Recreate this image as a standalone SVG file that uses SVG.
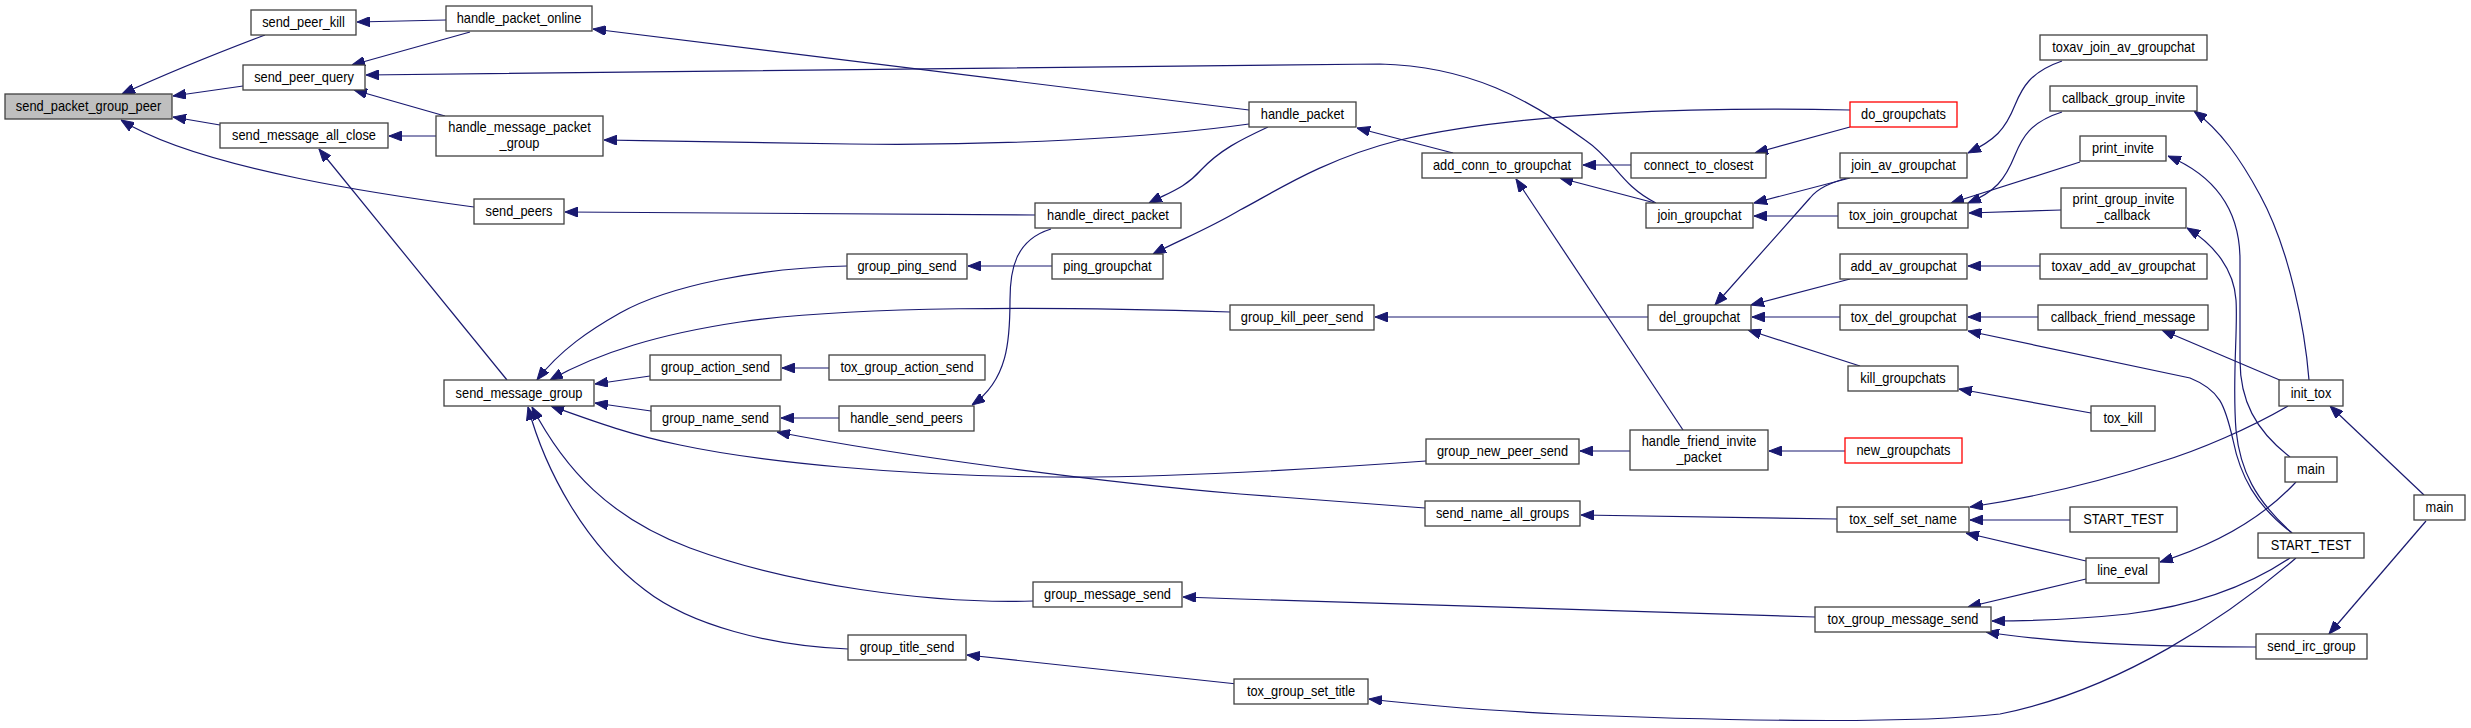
<svg xmlns="http://www.w3.org/2000/svg" width="2471" height="728" viewBox="0 0 2471 728">
<style>
.n rect{fill:#ffffff;stroke:#404040;stroke-width:1.3}
.root rect{fill:#bfbfbf}
.red rect{stroke:#ff0000}
.n text{font-family:"Liberation Sans",Arial,sans-serif;font-size:14.4px;text-anchor:middle;fill:#000000}
.e path{fill:none;stroke:#191970;stroke-width:1.2;marker-end:url(#a)}
</style>
<defs>
<marker id="a" markerUnits="userSpaceOnUse" markerWidth="13" markerHeight="10" viewBox="0 0 13 10" refX="13" refY="5" orient="auto"><path d="M0,0 L13,5 L0,10 z" fill="#191970" stroke="#191970" stroke-width="1"/></marker>
</defs>
<rect width="2471" height="728" fill="#ffffff"/>
<g id="edges" class="e">
<path d="M265,35 C220,52 170,72 122,94"/>
<path d="M243,86 L173,96"/>
<path d="M220,125 L173,117"/>
<path d="M474,207 C400,197 200,170 121,120"/>
<path d="M446,20 L357,22"/>
<path d="M470,32 L352,65"/>
<path d="M445,116 L354,90"/>
<path d="M1656,203 C1620,185 1615,160 1585,140 C1530,100 1470,66 1380,64 L366,75"/>
<path d="M436,136 L389,136"/>
<path d="M507,380 L319,149"/>
<path d="M1249,110 L593,29"/>
<path d="M1249,124 C1150,138 1000,146 850,144 C750,143 680,141 604,140"/>
<path d="M1035,215 L565,212"/>
<path d="M1268,127 C1240,140 1220,150 1201,170 C1185,188 1170,192 1149,203"/>
<path d="M1051,229 C1015,240 1010,270 1010,300 C1010,340 1008,380 972,405"/>
<path d="M1850,110 C1700,107 1520,112 1400,140 C1320,160 1270,195 1240,210 C1210,228 1180,240 1153,254"/>
<path d="M1453,153 L1357,128"/>
<path d="M1631,165 L1583,165"/>
<path d="M1655,203 L1560,178"/>
<path d="M1683,430 L1516,179"/>
<path d="M1850,127 L1755,153"/>
<path d="M1850,178 L1754,203"/>
<path d="M1838,216 L1754,216"/>
<path d="M1850,177 C1830,183 1818,188 1810,198 L1715,305"/>
<path d="M1850,279 L1751,305"/>
<path d="M1840,317 L1752,317"/>
<path d="M1860,366 L1748,330"/>
<path d="M1648,317 L1375,317"/>
<path d="M1230,312 C1050,306 850,306 740,322 C660,334 600,352 550,380"/>
<path d="M847,266 C760,268 670,285 620,313 C590,330 560,350 537,380"/>
<path d="M650,376 L595,384"/>
<path d="M651,411 L595,403"/>
<path d="M1426,461 C1300,470 1150,478 1055,477 C900,476 760,462 680,445 C630,435 590,420 551,406"/>
<path d="M1033,601 C930,604 790,585 690,548 C610,518 565,470 532,407"/>
<path d="M848,649 C770,646 690,625 645,590 C585,545 545,470 528,407"/>
<path d="M829,368 L782,368"/>
<path d="M839,418 L781,418"/>
<path d="M1052,266 L968,266"/>
<path d="M1425,508 L1240,494 C1100,482 900,456 777,432"/>
<path d="M1630,451 L1580,451"/>
<path d="M1845,451 L1769,451"/>
<path d="M1837,519 L1581,515"/>
<path d="M1815,617 L1240,599 L1183,597"/>
<path d="M1237,684 L967,655"/>
<path d="M2296,558 C2230,615 2120,690 2000,714 C1900,725 1700,720 1560,714 C1480,710 1420,705 1369,699"/>
<path d="M2062,61 C2030,72 2022,88 2015,105 C2005,130 1995,140 1968,153"/>
<path d="M2062,112 C2030,122 2022,138 2015,155 C2005,180 1995,192 1968,203"/>
<path d="M2080,162 L1951,203"/>
<path d="M2061,210 L1969,213"/>
<path d="M2040,266 L1968,266"/>
<path d="M2038,317 L1968,317"/>
<path d="M2292,533 C2255,505 2240,475 2233,440 C2225,405 2220,390 2190,378 L1968,331"/>
<path d="M2292,533 C2255,500 2240,470 2236,430 C2232,380 2238,330 2236,300 C2234,270 2215,245 2187,228"/>
<path d="M2290,457 C2255,430 2240,400 2240,360 L2240,260 C2240,220 2225,180 2168,156"/>
<path d="M2282,381 L2162,330"/>
<path d="M2309,380 C2305,330 2290,250 2260,195 C2240,158 2220,130 2194,111"/>
<path d="M2288,406 C2250,428 2200,450 2160,462 C2090,485 2030,498 1970,507"/>
<path d="M2070,520 L1970,520"/>
<path d="M2086,561 L1966,533"/>
<path d="M2296,482 C2270,510 2230,540 2160,562"/>
<path d="M2086,579 L1968,607"/>
<path d="M2290,558 C2250,585 2200,605 2128,614 C2080,619 2030,621 1992,621"/>
<path d="M2256,647 C2150,647 2050,642 1986,632"/>
<path d="M2424,495 L2330,406"/>
<path d="M2426,521 L2329,634"/>
<path d="M2091,413 L1959,389"/>
</g>
<g id="send_packet_group_peer" class="n root"><rect x="5" y="94" width="167" height="25"/><text transform="matrix(0.89 0 0 1 88.5 111.3)">send_packet_group_peer</text></g>
<g id="send_peer_kill" class="n"><rect x="251" y="10" width="105" height="25"/><text transform="matrix(0.89 0 0 1 303.5 27.3)">send_peer_kill</text></g>
<g id="send_peer_query" class="n"><rect x="243" y="65" width="122" height="25"/><text transform="matrix(0.89 0 0 1 304 82.3)">send_peer_query</text></g>
<g id="send_message_all_close" class="n"><rect x="220" y="123" width="168" height="25"/><text transform="matrix(0.89 0 0 1 304 140.3)">send_message_all_close</text></g>
<g id="handle_packet_online" class="n"><rect x="446" y="6" width="146" height="25"/><text transform="matrix(0.89 0 0 1 519 23.3)">handle_packet_online</text></g>
<g id="handle_message_packet_group" class="n"><rect x="436" y="116" width="167" height="40"/><text transform="matrix(0.89 0 0 1 519.5 132)">handle_message_packet</text><text transform="matrix(0.89 0 0 1 519.5 147.5)">_group</text></g>
<g id="send_peers" class="n"><rect x="474" y="199" width="90" height="25"/><text transform="matrix(0.89 0 0 1 519 216.3)">send_peers</text></g>
<g id="send_message_group" class="n"><rect x="444" y="380" width="150" height="26"/><text transform="matrix(0.89 0 0 1 519 397.8)">send_message_group</text></g>
<g id="group_action_send" class="n"><rect x="650" y="355" width="131" height="25"/><text transform="matrix(0.89 0 0 1 715.5 372.3)">group_action_send</text></g>
<g id="group_name_send" class="n"><rect x="651" y="406" width="129" height="25"/><text transform="matrix(0.89 0 0 1 715.5 423.3)">group_name_send</text></g>
<g id="group_ping_send" class="n"><rect x="847" y="254" width="120" height="25"/><text transform="matrix(0.89 0 0 1 907 271.3)">group_ping_send</text></g>
<g id="tox_group_action_send" class="n"><rect x="829" y="355" width="156" height="25"/><text transform="matrix(0.89 0 0 1 907 372.3)">tox_group_action_send</text></g>
<g id="handle_send_peers" class="n"><rect x="839" y="406" width="135" height="25"/><text transform="matrix(0.89 0 0 1 906.5 423.3)">handle_send_peers</text></g>
<g id="group_title_send" class="n"><rect x="848" y="635" width="118" height="25"/><text transform="matrix(0.89 0 0 1 907 652.3)">group_title_send</text></g>
<g id="handle_direct_packet" class="n"><rect x="1035" y="203" width="146" height="25"/><text transform="matrix(0.89 0 0 1 1108 220.3)">handle_direct_packet</text></g>
<g id="ping_groupchat" class="n"><rect x="1052" y="254" width="111" height="25"/><text transform="matrix(0.89 0 0 1 1107.5 271.3)">ping_groupchat</text></g>
<g id="group_message_send" class="n"><rect x="1033" y="582" width="149" height="25"/><text transform="matrix(0.89 0 0 1 1107.5 599.3)">group_message_send</text></g>
<g id="handle_packet" class="n"><rect x="1249" y="102" width="107" height="25"/><text transform="matrix(0.89 0 0 1 1302.5 119.3)">handle_packet</text></g>
<g id="group_kill_peer_send" class="n"><rect x="1230" y="305" width="144" height="25"/><text transform="matrix(0.89 0 0 1 1302 322.3)">group_kill_peer_send</text></g>
<g id="tox_group_set_title" class="n"><rect x="1234" y="679" width="134" height="25"/><text transform="matrix(0.89 0 0 1 1301 696.3)">tox_group_set_title</text></g>
<g id="add_conn_to_groupchat" class="n"><rect x="1422" y="153" width="160" height="25"/><text transform="matrix(0.89 0 0 1 1502 170.3)">add_conn_to_groupchat</text></g>
<g id="group_new_peer_send" class="n"><rect x="1426" y="439" width="153" height="25"/><text transform="matrix(0.89 0 0 1 1502.5 456.3)">group_new_peer_send</text></g>
<g id="send_name_all_groups" class="n"><rect x="1425" y="501" width="155" height="25"/><text transform="matrix(0.89 0 0 1 1502.5 518.3)">send_name_all_groups</text></g>
<g id="connect_to_closest" class="n"><rect x="1631" y="153" width="135" height="25"/><text transform="matrix(0.89 0 0 1 1698.5 170.3)">connect_to_closest</text></g>
<g id="join_groupchat" class="n"><rect x="1646" y="203" width="107" height="25"/><text transform="matrix(0.89 0 0 1 1699.5 220.3)">join_groupchat</text></g>
<g id="del_groupchat" class="n"><rect x="1648" y="305" width="103" height="25"/><text transform="matrix(0.89 0 0 1 1699.5 322.3)">del_groupchat</text></g>
<g id="handle_friend_invite_packet" class="n"><rect x="1630" y="430" width="138" height="40"/><text transform="matrix(0.89 0 0 1 1699 446)">handle_friend_invite</text><text transform="matrix(0.89 0 0 1 1699 461.5)">_packet</text></g>
<g id="do_groupchats" class="n red"><rect x="1850" y="102" width="107" height="25"/><text transform="matrix(0.89 0 0 1 1903.5 119.3)">do_groupchats</text></g>
<g id="join_av_groupchat" class="n"><rect x="1840" y="153" width="127" height="25"/><text transform="matrix(0.89 0 0 1 1903.5 170.3)">join_av_groupchat</text></g>
<g id="tox_join_groupchat" class="n"><rect x="1838" y="203" width="130" height="25"/><text transform="matrix(0.89 0 0 1 1903 220.3)">tox_join_groupchat</text></g>
<g id="add_av_groupchat" class="n"><rect x="1840" y="254" width="127" height="25"/><text transform="matrix(0.89 0 0 1 1903.5 271.3)">add_av_groupchat</text></g>
<g id="tox_del_groupchat" class="n"><rect x="1840" y="305" width="127" height="25"/><text transform="matrix(0.89 0 0 1 1903.5 322.3)">tox_del_groupchat</text></g>
<g id="kill_groupchats" class="n"><rect x="1848" y="366" width="110" height="25"/><text transform="matrix(0.89 0 0 1 1903 383.3)">kill_groupchats</text></g>
<g id="new_groupchats" class="n red"><rect x="1845" y="438" width="117" height="25"/><text transform="matrix(0.89 0 0 1 1903.5 455.3)">new_groupchats</text></g>
<g id="tox_self_set_name" class="n"><rect x="1837" y="507" width="132" height="25"/><text transform="matrix(0.89 0 0 1 1903 524.3)">tox_self_set_name</text></g>
<g id="tox_group_message_send" class="n"><rect x="1815" y="607" width="176" height="25"/><text transform="matrix(0.89 0 0 1 1903 624.3)">tox_group_message_send</text></g>
<g id="toxav_join_av_groupchat" class="n"><rect x="2040" y="35" width="167" height="25"/><text transform="matrix(0.89 0 0 1 2123.5 52.3)">toxav_join_av_groupchat</text></g>
<g id="callback_group_invite" class="n"><rect x="2050" y="86" width="147" height="25"/><text transform="matrix(0.89 0 0 1 2123.5 103.3)">callback_group_invite</text></g>
<g id="print_invite" class="n"><rect x="2080" y="136" width="86" height="25"/><text transform="matrix(0.89 0 0 1 2123 153.3)">print_invite</text></g>
<g id="print_group_invite_callback" class="n"><rect x="2061" y="188" width="125" height="40"/><text transform="matrix(0.89 0 0 1 2123.5 204)">print_group_invite</text><text transform="matrix(0.89 0 0 1 2123.5 219.5)">_callback</text></g>
<g id="toxav_add_av_groupchat" class="n"><rect x="2040" y="254" width="167" height="25"/><text transform="matrix(0.89 0 0 1 2123.5 271.3)">toxav_add_av_groupchat</text></g>
<g id="callback_friend_message" class="n"><rect x="2038" y="305" width="170" height="25"/><text transform="matrix(0.89 0 0 1 2123 322.3)">callback_friend_message</text></g>
<g id="tox_kill" class="n"><rect x="2091" y="406" width="64" height="25"/><text transform="matrix(0.89 0 0 1 2123 423.3)">tox_kill</text></g>
<g id="START_TEST_1" class="n"><rect x="2070" y="507" width="107" height="25"/><text transform="matrix(0.89 0 0 1 2123.5 524.3)">START_TEST</text></g>
<g id="line_eval" class="n"><rect x="2086" y="558" width="73" height="25"/><text transform="matrix(0.89 0 0 1 2122.5 575.3)">line_eval</text></g>
<g id="init_tox" class="n"><rect x="2279" y="380" width="64" height="26"/><text transform="matrix(0.89 0 0 1 2311 397.8)">init_tox</text></g>
<g id="main_1" class="n"><rect x="2285" y="457" width="52" height="25"/><text transform="matrix(0.89 0 0 1 2311 474.3)">main</text></g>
<g id="START_TEST_2" class="n"><rect x="2258" y="533" width="106" height="25"/><text transform="matrix(0.89 0 0 1 2311 550.3)">START_TEST</text></g>
<g id="send_irc_group" class="n"><rect x="2256" y="634" width="111" height="25"/><text transform="matrix(0.89 0 0 1 2311.5 651.3)">send_irc_group</text></g>
<g id="main_2" class="n"><rect x="2414" y="495" width="51" height="25"/><text transform="matrix(0.89 0 0 1 2439.5 512.3)">main</text></g>
</svg>
